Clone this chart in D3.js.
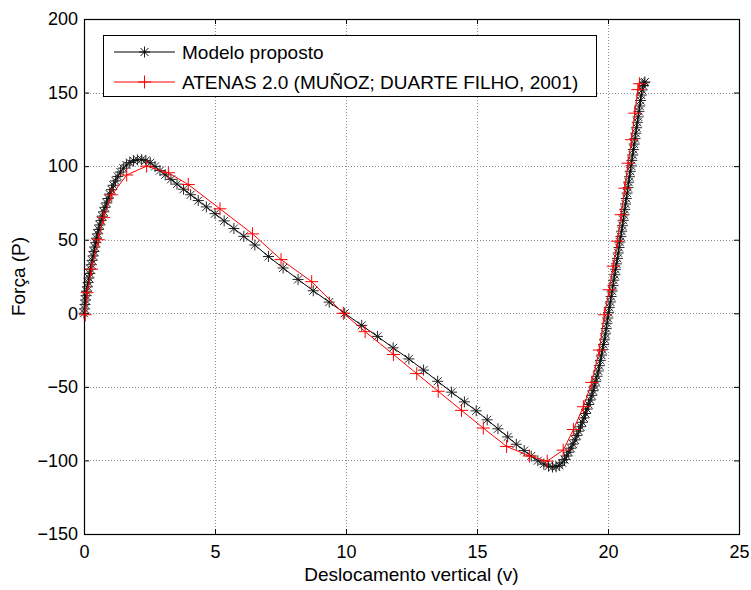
<!DOCTYPE html>
<html>
<head>
<meta charset="utf-8">
<script src="https://cdn.jsdelivr.net/npm/d3@7"></script>
<style>
    body { margin: 0; background: #fff; }
    svg { font-family: "Liberation Sans", Arial, sans-serif; }
</style>
</head>
<body>
<div id="chart"></div>
<script>
// Modelo proposto (v, P)
const modeloV = [0, 0.02, 0.04, 0.06, 0.08, 0.1, 0.13, 0.16, 0.19, 0.22, 0.25, 0.28, 0.31, 0.35, 0.38, 0.41, 0.45, 0.48, 0.52, 0.56,
    0.6, 0.65, 0.7, 0.75, 0.8, 0.86, 0.92, 0.98, 1.05, 1.12, 1.2, 1.29, 1.39, 1.5, 1.62, 1.75, 1.89, 2.04, 2.2, 2.36,
    2.53, 2.71, 2.9, 3.1, 3.32, 3.55, 3.8, 4.07, 4.36, 4.67, 5.0, 5.35, 5.72, 6.1, 6.52, 7.04, 7.6, 8.17, 8.75, 9.36,
    9.95, 10.6, 11.2, 11.8, 12.4, 12.96, 13.5, 14.03, 14.52, 14.97, 15.39, 15.8, 16.17, 16.5, 16.8, 17.07, 17.32, 17.55, 17.73, 17.88,
    18.02, 18.14, 18.25, 18.34, 18.42, 18.5, 18.58, 18.66, 18.74, 18.81, 18.88, 18.95, 19.02, 19.08, 19.14, 19.2, 19.26, 19.32, 19.38, 19.43,
    19.48, 19.53, 19.58, 19.63, 19.67, 19.71, 19.75, 19.79, 19.83, 19.87, 19.9, 19.93, 19.96, 19.99, 20.02, 20.05, 20.09, 20.12, 20.16, 20.19,
    20.22, 20.26, 20.29, 20.32, 20.36, 20.39, 20.42, 20.45, 20.49, 20.52, 20.55, 20.58, 20.61, 20.64, 20.67, 20.7, 20.73, 20.76, 20.79, 20.82,
    20.85, 20.88, 20.91, 20.94, 20.97, 21.0, 21.03, 21.06, 21.09, 21.12, 21.15, 21.18, 21.21, 21.24, 21.27, 21.3, 21.34, 21.38, 21.41];
const modeloP = [0, 3, 6, 9, 12, 15, 18, 21, 24, 27, 30, 33, 36, 39, 42, 45, 48, 51, 54, 57,
    60, 63, 66, 69, 72, 75, 78, 81, 84, 87, 90, 93, 96, 98.6, 100.8, 102.5, 103.7, 104.3, 104.4, 103.9,
    102.3, 99.8, 97, 94.1, 91, 87.8, 84.3, 80.6, 76.6, 72.3, 67.7, 62.8, 57.6, 52.3, 46.4, 38.6, 30.8, 23, 15.3, 7.6,
    0, -8.2, -15.7, -23.5, -31, -38.6, -46.2, -53.6, -60.2, -66.3, -72.4, -78.5, -84, -89, -93.3, -97, -100.2, -102.5, -103.9, -104.5,
    -104.3, -103.4, -101.6, -99.4, -97, -94.4, -91.7, -88.9, -86, -83.1, -80.1, -77.1, -74.1, -71.1, -68.1, -65.1, -62, -58.9, -55.8, -52.6,
    -49.4, -46.2, -42.8, -39.2, -35.6, -32, -28.4, -24.8, -21.2, -17.6, -14, -10.4, -6.8, -3.2, 0.4, 4, 7.7, 11.4, 15.1, 18.8,
    22.5, 26.2, 29.9, 33.6, 37.3, 41, 44.7, 48.4, 52.1, 55.8, 59.5, 63.2, 66.9, 70.6, 74.3, 78, 81.7, 85.4, 89.1, 92.8,
    96.5, 100.2, 103.9, 107.6, 111.3, 115, 118.7, 122.4, 126.1, 129.8, 133.5, 137.2, 140.9, 144.6, 148.3, 151.8, 154.8, 156.6, 157.2];

// ATENAS 2.0 (v, P)
const atenasV = [0.05, 0.12, 0.29, 0.55, 0.75, 1.06, 1.63, 2.39, 3.22, 3.98, 5.19, 6.43, 7.52, 8.69, 9.9, 10.73, 11.81, 12.7, 13.52, 14.41,
    15.24, 16.13, 17.0, 17.68, 18.29, 18.68, 19.06, 19.38, 19.67, 19.86, 20.05, 20.2, 20.36, 20.5, 20.64, 20.77, 20.9, 21.02, 21.14, 21.2];
const atenasP = [-1, 14, 30, 50, 65, 80.5, 94, 100, 95.5, 87.5, 71, 54, 36.5, 21.5, 0, -12.5, -28, -41, -53, -66,
    -78, -90.5, -97, -100.5, -93, -79, -63.5, -47, -25, -1, 16, 32, 49, 67, 85, 102, 118, 136, 152, 156];

const xTicks = [0, 5, 10, 15, 20, 25];
const yTicks = [-150, -100, -50, 0, 50, 100, 150, 200];
const legendLabels = ["Modelo proposto", "ATENAS 2.0 (MUÑOZ; DUARTE FILHO, 2001)"];

const width = 751, height = 590;
const plotLeft = 84, plotRight = 739, plotTop = 19, plotBottom = 534;

const svg = d3.select("#chart").append("svg")
    .attr("width", width)
    .attr("height", height);

const x = d3.scaleLinear().domain([0, 25]).range([plotLeft, plotRight]);
const y = d3.scaleLinear().domain([-150, 200]).range([plotBottom, plotTop]);

// grid
const grid = svg.append("g")
    .attr("stroke", "#8c8c8c")
    .attr("stroke-width", 1)
    .attr("stroke-dasharray", "1,2");
grid.selectAll("line.gx")
    .data(xTicks.slice(1, -1))
    .join("line")
    .attr("class", "gx")
    .attr("x1", d => Math.round(x(d)) + 0.5)
    .attr("x2", d => Math.round(x(d)) + 0.5)
    .attr("y1", plotTop)
    .attr("y2", plotBottom);
grid.selectAll("line.gy")
    .data(yTicks.slice(1, -1))
    .join("line")
    .attr("class", "gy")
    .attr("x1", plotLeft)
    .attr("x2", plotRight)
    .attr("y1", d => Math.round(y(d)) + 0.5)
    .attr("y2", d => Math.round(y(d)) + 0.5);

// axes (ticks pointing inward, as in MATLAB)
function styleAxis(g) {
    g.selectAll("line").attr("stroke", "#000");
    g.selectAll("text").attr("fill", "#000").attr("font-size", 18);
}

svg.append("g")
    .attr("transform", `translate(0,${plotBottom})`)
    .call(d3.axisBottom(x).tickValues(xTicks).tickSize(-5).tickPadding(11).tickSizeOuter(0))
    .call(styleAxis)
    .call(g => g.select(".domain").remove());

svg.append("g")
    .attr("transform", `translate(${plotLeft},0)`)
    .call(d3.axisLeft(y).tickValues(yTicks).tickSize(-5).tickPadding(6).tickSizeOuter(0))
    .call(styleAxis)
    .call(g => g.select(".domain").remove());

svg.append("g")
    .attr("transform", `translate(0,${plotTop})`)
    .call(d3.axisTop(x).tickValues(xTicks).tickSize(-5).tickFormat("").tickSizeOuter(0))
    .call(styleAxis)
    .call(g => g.select(".domain").remove());

svg.append("g")
    .attr("transform", `translate(${plotRight},0)`)
    .call(d3.axisRight(y).tickValues(yTicks).tickSize(-5).tickFormat("").tickSizeOuter(0))
    .call(styleAxis)
    .call(g => g.select(".domain").remove());

svg.append("rect")
    .attr("x", plotLeft + 0.5)
    .attr("y", plotTop + 0.5)
    .attr("width", plotRight - plotLeft)
    .attr("height", plotBottom - plotTop)
    .attr("fill", "none")
    .attr("stroke", "#000")
    .attr("stroke-width", 1.2);

// axis labels
svg.append("text")
    .attr("x", (plotLeft + plotRight) / 2)
    .attr("y", 581)
    .attr("text-anchor", "middle")
    .attr("font-size", 19)
    .text("Deslocamento vertical (v)");

svg.append("text")
    .attr("transform", `translate(25,${(plotTop + plotBottom) / 2}) rotate(-90)`)
    .attr("text-anchor", "middle")
    .attr("font-size", 19)
    .text("Força (P)");

// markers
const star = "M-5.5,0H5.5M0,-5.5V5.5M-4,-4L4,4M-4,4L4,-4";
const plus = "M-6.5,0H6.5M0,-6.5V6.5";

const modelo = modeloV.map((v, i) => ({ v: v, p: modeloP[i] }));
const atenas = atenasV.map((v, i) => ({ v: v, p: atenasP[i] }));

const line = d3.line().x(d => x(d.v)).y(d => y(d.p));

const plotArea = svg.append("g");

plotArea.append("path")
    .datum(modelo)
    .attr("d", line)
    .attr("fill", "none")
    .attr("stroke", "#000")
    .attr("stroke-width", 1);

plotArea.append("g")
    .selectAll("path")
    .data(modelo)
    .join("path")
    .attr("transform", d => `translate(${x(d.v)},${y(d.p)})`)
    .attr("d", star)
    .attr("fill", "none")
    .attr("stroke", "#111")
    .attr("stroke-width", 0.9);

plotArea.append("path")
    .datum(atenas)
    .attr("d", line)
    .attr("fill", "none")
    .attr("stroke", "#ff0000")
    .attr("stroke-width", 1);

plotArea.append("g")
    .selectAll("path")
    .data(atenas)
    .join("path")
    .attr("transform", d => `translate(${x(d.v)},${y(d.p)})`)
    .attr("d", plus)
    .attr("fill", "none")
    .attr("stroke", "#ff0000")
    .attr("stroke-width", 1);

// legend
const legend = svg.append("g");
legend.append("rect")
    .attr("x", 103.5)
    .attr("y", 35.5)
    .attr("width", 493)
    .attr("height", 61)
    .attr("fill", "#fff")
    .attr("stroke", "#000")
    .attr("stroke-width", 1);

const legendColors = ["#000", "#ff0000"];
const legendMarks = [star, plus];
legendLabels.forEach((label, i) => {
    const ly = 52 + i * 30;
    legend.append("line")
        .attr("x1", 114).attr("x2", 175)
        .attr("y1", ly).attr("y2", ly)
        .attr("stroke", legendColors[i])
        .attr("stroke-width", 1);
    legend.append("path")
        .attr("transform", `translate(144.5,${ly})`)
        .attr("d", legendMarks[i])
        .attr("fill", "none")
        .attr("stroke", legendColors[i])
        .attr("stroke-width", i === 0 ? 0.9 : 1);
    legend.append("text")
        .attr("x", 182)
        .attr("y", ly)
        .attr("dy", "0.35em")
        .attr("font-size", 19)
        .text(label);
});
</script>
</body>
</html>
